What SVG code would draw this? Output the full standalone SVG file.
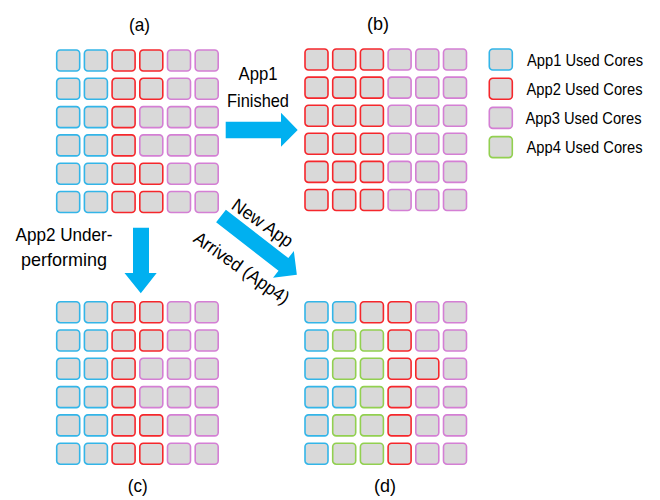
<svg xmlns="http://www.w3.org/2000/svg" width="660" height="500" viewBox="0 0 660 500">
<style>
rect.c{fill:#D9D9D9;stroke-width:1.6;}
text{font-family:"Liberation Sans",Arial,sans-serif;fill:#000;}
.lbl{font-size:18.5px;}
.leg{font-size:16.5px;}
.arrow{fill:#00B0F0;}
</style>
<defs>
<rect id="cell" class="c" width="23" height="21" rx="3.5"/>
</defs>
<rect width="660" height="500" fill="#fff"/>

<g id="grid-a">
<use href="#cell" x="56.7" y="50" stroke="#33B5E8"/><use href="#cell" x="84.4" y="50" stroke="#33B5E8"/><use href="#cell" x="112.1" y="50" stroke="#F5272C"/><use href="#cell" x="139.8" y="50" stroke="#F5272C"/><use href="#cell" x="167.5" y="50" stroke="#D47FD4"/><use href="#cell" x="195.2" y="50" stroke="#D47FD4"/>
<use href="#cell" x="56.7" y="78.3" stroke="#33B5E8"/><use href="#cell" x="84.4" y="78.3" stroke="#33B5E8"/><use href="#cell" x="112.1" y="78.3" stroke="#F5272C"/><use href="#cell" x="139.8" y="78.3" stroke="#F5272C"/><use href="#cell" x="167.5" y="78.3" stroke="#D47FD4"/><use href="#cell" x="195.2" y="78.3" stroke="#D47FD4"/>
<use href="#cell" x="56.7" y="106.6" stroke="#33B5E8"/><use href="#cell" x="84.4" y="106.6" stroke="#33B5E8"/><use href="#cell" x="112.1" y="106.6" stroke="#F5272C"/><use href="#cell" x="139.8" y="106.6" stroke="#D47FD4"/><use href="#cell" x="167.5" y="106.6" stroke="#D47FD4"/><use href="#cell" x="195.2" y="106.6" stroke="#D47FD4"/>
<use href="#cell" x="56.7" y="134.9" stroke="#33B5E8"/><use href="#cell" x="84.4" y="134.9" stroke="#33B5E8"/><use href="#cell" x="112.1" y="134.9" stroke="#F5272C"/><use href="#cell" x="139.8" y="134.9" stroke="#D47FD4"/><use href="#cell" x="167.5" y="134.9" stroke="#D47FD4"/><use href="#cell" x="195.2" y="134.9" stroke="#D47FD4"/>
<use href="#cell" x="56.7" y="163.2" stroke="#33B5E8"/><use href="#cell" x="84.4" y="163.2" stroke="#33B5E8"/><use href="#cell" x="112.1" y="163.2" stroke="#F5272C"/><use href="#cell" x="139.8" y="163.2" stroke="#F5272C"/><use href="#cell" x="167.5" y="163.2" stroke="#D47FD4"/><use href="#cell" x="195.2" y="163.2" stroke="#D47FD4"/>
<use href="#cell" x="56.7" y="191.5" stroke="#33B5E8"/><use href="#cell" x="84.4" y="191.5" stroke="#33B5E8"/><use href="#cell" x="112.1" y="191.5" stroke="#F5272C"/><use href="#cell" x="139.8" y="191.5" stroke="#F5272C"/><use href="#cell" x="167.5" y="191.5" stroke="#D47FD4"/><use href="#cell" x="195.2" y="191.5" stroke="#D47FD4"/>
<text class="lbl" x="139.5" y="31" text-anchor="middle" textLength="21" lengthAdjust="spacingAndGlyphs">(a)</text>
</g>

<g id="grid-b">
<use href="#cell" x="305" y="49" stroke="#F5272C"/><use href="#cell" x="332.7" y="49" stroke="#F5272C"/><use href="#cell" x="360.4" y="49" stroke="#F5272C"/><use href="#cell" x="388.1" y="49" stroke="#D47FD4"/><use href="#cell" x="415.8" y="49" stroke="#D47FD4"/><use href="#cell" x="443.5" y="49" stroke="#D47FD4"/>
<use href="#cell" x="305" y="77.1" stroke="#F5272C"/><use href="#cell" x="332.7" y="77.1" stroke="#F5272C"/><use href="#cell" x="360.4" y="77.1" stroke="#F5272C"/><use href="#cell" x="388.1" y="77.1" stroke="#D47FD4"/><use href="#cell" x="415.8" y="77.1" stroke="#D47FD4"/><use href="#cell" x="443.5" y="77.1" stroke="#D47FD4"/>
<use href="#cell" x="305" y="105.2" stroke="#F5272C"/><use href="#cell" x="332.7" y="105.2" stroke="#F5272C"/><use href="#cell" x="360.4" y="105.2" stroke="#F5272C"/><use href="#cell" x="388.1" y="105.2" stroke="#D47FD4"/><use href="#cell" x="415.8" y="105.2" stroke="#D47FD4"/><use href="#cell" x="443.5" y="105.2" stroke="#D47FD4"/>
<use href="#cell" x="305" y="133.3" stroke="#F5272C"/><use href="#cell" x="332.7" y="133.3" stroke="#F5272C"/><use href="#cell" x="360.4" y="133.3" stroke="#F5272C"/><use href="#cell" x="388.1" y="133.3" stroke="#D47FD4"/><use href="#cell" x="415.8" y="133.3" stroke="#D47FD4"/><use href="#cell" x="443.5" y="133.3" stroke="#D47FD4"/>
<use href="#cell" x="305" y="161.4" stroke="#F5272C"/><use href="#cell" x="332.7" y="161.4" stroke="#F5272C"/><use href="#cell" x="360.4" y="161.4" stroke="#F5272C"/><use href="#cell" x="388.1" y="161.4" stroke="#D47FD4"/><use href="#cell" x="415.8" y="161.4" stroke="#D47FD4"/><use href="#cell" x="443.5" y="161.4" stroke="#D47FD4"/>
<use href="#cell" x="305" y="189.5" stroke="#F5272C"/><use href="#cell" x="332.7" y="189.5" stroke="#F5272C"/><use href="#cell" x="360.4" y="189.5" stroke="#F5272C"/><use href="#cell" x="388.1" y="189.5" stroke="#D47FD4"/><use href="#cell" x="415.8" y="189.5" stroke="#D47FD4"/><use href="#cell" x="443.5" y="189.5" stroke="#D47FD4"/>
<text class="lbl" x="378" y="30" text-anchor="middle" textLength="22" lengthAdjust="spacingAndGlyphs">(b)</text>
</g>

<g id="grid-c">
<use href="#cell" x="56.7" y="301.7" stroke="#33B5E8"/><use href="#cell" x="84.4" y="301.7" stroke="#33B5E8"/><use href="#cell" x="112.1" y="301.7" stroke="#F5272C"/><use href="#cell" x="139.8" y="301.7" stroke="#F5272C"/><use href="#cell" x="167.5" y="301.7" stroke="#D47FD4"/><use href="#cell" x="195.2" y="301.7" stroke="#D47FD4"/>
<use href="#cell" x="56.7" y="330" stroke="#33B5E8"/><use href="#cell" x="84.4" y="330" stroke="#33B5E8"/><use href="#cell" x="112.1" y="330" stroke="#F5272C"/><use href="#cell" x="139.8" y="330" stroke="#F5272C"/><use href="#cell" x="167.5" y="330" stroke="#D47FD4"/><use href="#cell" x="195.2" y="330" stroke="#D47FD4"/>
<use href="#cell" x="56.7" y="358.3" stroke="#33B5E8"/><use href="#cell" x="84.4" y="358.3" stroke="#33B5E8"/><use href="#cell" x="112.1" y="358.3" stroke="#F5272C"/><use href="#cell" x="139.8" y="358.3" stroke="#D47FD4"/><use href="#cell" x="167.5" y="358.3" stroke="#D47FD4"/><use href="#cell" x="195.2" y="358.3" stroke="#D47FD4"/>
<use href="#cell" x="56.7" y="386.6" stroke="#33B5E8"/><use href="#cell" x="84.4" y="386.6" stroke="#33B5E8"/><use href="#cell" x="112.1" y="386.6" stroke="#F5272C"/><use href="#cell" x="139.8" y="386.6" stroke="#D47FD4"/><use href="#cell" x="167.5" y="386.6" stroke="#D47FD4"/><use href="#cell" x="195.2" y="386.6" stroke="#D47FD4"/>
<use href="#cell" x="56.7" y="414.9" stroke="#33B5E8"/><use href="#cell" x="84.4" y="414.9" stroke="#33B5E8"/><use href="#cell" x="112.1" y="414.9" stroke="#F5272C"/><use href="#cell" x="139.8" y="414.9" stroke="#F5272C"/><use href="#cell" x="167.5" y="414.9" stroke="#D47FD4"/><use href="#cell" x="195.2" y="414.9" stroke="#D47FD4"/>
<use href="#cell" x="56.7" y="443.2" stroke="#33B5E8"/><use href="#cell" x="84.4" y="443.2" stroke="#33B5E8"/><use href="#cell" x="112.1" y="443.2" stroke="#F5272C"/><use href="#cell" x="139.8" y="443.2" stroke="#F5272C"/><use href="#cell" x="167.5" y="443.2" stroke="#D47FD4"/><use href="#cell" x="195.2" y="443.2" stroke="#D47FD4"/>
<text class="lbl" x="137.7" y="492" text-anchor="middle" textLength="20" lengthAdjust="spacingAndGlyphs">(c)</text>
</g>

<g id="grid-d">
<use href="#cell" x="305" y="301.7" stroke="#33B5E8"/><use href="#cell" x="332.7" y="301.7" stroke="#33B5E8"/><use href="#cell" x="360.4" y="301.7" stroke="#F5272C"/><use href="#cell" x="388.1" y="301.7" stroke="#F5272C"/><use href="#cell" x="415.8" y="301.7" stroke="#D47FD4"/><use href="#cell" x="443.5" y="301.7" stroke="#D47FD4"/>
<use href="#cell" x="305" y="330" stroke="#33B5E8"/><use href="#cell" x="332.7" y="330" stroke="#92D050"/><use href="#cell" x="360.4" y="330" stroke="#92D050"/><use href="#cell" x="388.1" y="330" stroke="#F5272C"/><use href="#cell" x="415.8" y="330" stroke="#D47FD4"/><use href="#cell" x="443.5" y="330" stroke="#D47FD4"/>
<use href="#cell" x="305" y="358.3" stroke="#33B5E8"/><use href="#cell" x="332.7" y="358.3" stroke="#92D050"/><use href="#cell" x="360.4" y="358.3" stroke="#92D050"/><use href="#cell" x="388.1" y="358.3" stroke="#F5272C"/><use href="#cell" x="415.8" y="358.3" stroke="#F5272C"/><use href="#cell" x="443.5" y="358.3" stroke="#D47FD4"/>
<use href="#cell" x="305" y="386.6" stroke="#33B5E8"/><use href="#cell" x="332.7" y="386.6" stroke="#33B5E8"/><use href="#cell" x="360.4" y="386.6" stroke="#92D050"/><use href="#cell" x="388.1" y="386.6" stroke="#F5272C"/><use href="#cell" x="415.8" y="386.6" stroke="#D47FD4"/><use href="#cell" x="443.5" y="386.6" stroke="#D47FD4"/>
<use href="#cell" x="305" y="414.9" stroke="#33B5E8"/><use href="#cell" x="332.7" y="414.9" stroke="#92D050"/><use href="#cell" x="360.4" y="414.9" stroke="#92D050"/><use href="#cell" x="388.1" y="414.9" stroke="#F5272C"/><use href="#cell" x="415.8" y="414.9" stroke="#D47FD4"/><use href="#cell" x="443.5" y="414.9" stroke="#D47FD4"/>
<use href="#cell" x="305" y="443.2" stroke="#33B5E8"/><use href="#cell" x="332.7" y="443.2" stroke="#92D050"/><use href="#cell" x="360.4" y="443.2" stroke="#92D050"/><use href="#cell" x="388.1" y="443.2" stroke="#F5272C"/><use href="#cell" x="415.8" y="443.2" stroke="#D47FD4"/><use href="#cell" x="443.5" y="443.2" stroke="#D47FD4"/>
<text class="lbl" x="385" y="492" text-anchor="middle" textLength="22" lengthAdjust="spacingAndGlyphs">(d)</text>
</g>

<g id="legend">
<use href="#cell" x="489.3" y="49" stroke="#33B5E8"/>
<use href="#cell" x="489.3" y="78.2" stroke="#F5272C"/>
<use href="#cell" x="489.3" y="107.4" stroke="#D47FD4"/>
<use href="#cell" x="489.3" y="136.6" stroke="#92D050"/>
<text class="leg" x="527" y="65.5" textLength="116" lengthAdjust="spacingAndGlyphs">App1 Used Cores</text>
<text class="leg" x="526.5" y="94.5" textLength="116" lengthAdjust="spacingAndGlyphs">App2 Used Cores</text>
<text class="leg" x="525.5" y="123.5" textLength="116" lengthAdjust="spacingAndGlyphs">App3 Used Cores</text>
<text class="leg" x="526.5" y="153" textLength="116" lengthAdjust="spacingAndGlyphs">App4 Used Cores</text>
</g>

<g id="connectors">
<polygon class="arrow" points="225.7,121.7 281,121.7 281,112.7 297.7,130 281,146.7 281,138.3 225.7,138.3"/>
<polygon class="arrow" points="133,227.7 149,227.7 149,273 156.7,273 140.8,293.3 124.5,273 133,273"/>
<polygon class="arrow" transform="translate(221,216) rotate(37.8)" points="0,-8 79,-8 79,-17 96,0 79,17 79,8 0,8"/>
</g>

<g id="labels">
<text class="lbl" x="258" y="80" text-anchor="middle" textLength="39" lengthAdjust="spacingAndGlyphs">App1</text>
<text class="lbl" x="258" y="107" text-anchor="middle" textLength="62" lengthAdjust="spacingAndGlyphs">Finished</text>
<text class="lbl" x="64" y="241" text-anchor="middle" textLength="97" lengthAdjust="spacingAndGlyphs">App2 Under-</text>
<text class="lbl" x="64" y="266" text-anchor="middle" textLength="86" lengthAdjust="spacingAndGlyphs">performing</text>
<text class="lbl" transform="translate(259,228) rotate(35)" text-anchor="middle" textLength="70" lengthAdjust="spacingAndGlyphs">New App</text>
<text class="lbl" transform="translate(238,273) rotate(35)" text-anchor="middle" textLength="112" lengthAdjust="spacingAndGlyphs">Arrived (App4)</text>
</g>
</svg>
